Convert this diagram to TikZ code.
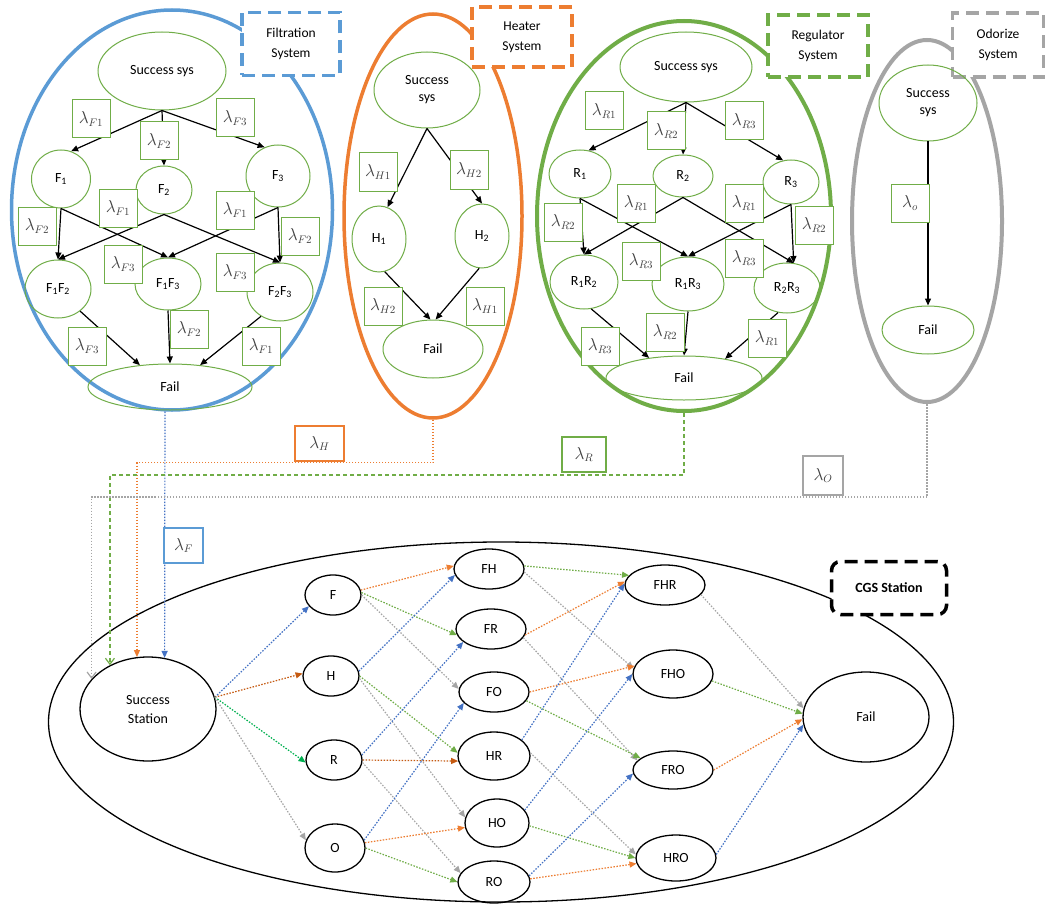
\documentclass[tikz,border=0pt]{standalone}
\usepackage{fontspec}
\setmainfont{Carlito}
\usetikzlibrary{shapes.geometric,arrows.meta}
\definecolor{fblue}{HTML}{5B9BD5}
\definecolor{cblue}{HTML}{4472C4}
\definecolor{corange}{HTML}{ED7D31}
\definecolor{dorange}{HTML}{C55A11}
\definecolor{cgreen}{HTML}{70AD47}
\definecolor{bgreen}{HTML}{00B050}
\definecolor{cgray}{HTML}{A5A5A5}
\definecolor{ltxt}{HTML}{404040}
\tikzset{
 sn/.style={draw=cgreen, line width=1pt, ellipse, inner sep=0pt, align=center, font=\fontsize{14}{17}\selectfont},
 lam/.style={draw=cgreen, line width=1pt, fill=white, minimum width=38pt, minimum height=38pt, inner sep=0pt, text=ltxt, font=\fontsize{16}{18}\selectfont},
 arr/.style={-{Triangle[length=7pt,width=6pt]}, line width=1.2pt},
 sysE/.style={ellipse, draw, inner sep=0pt},
 sysbox/.style={fill=white, line width=3.5pt, dash pattern=on 13pt off 7pt, align=center, inner sep=0pt, font=\fontsize{13.5}{20}\selectfont},
 bn/.style={draw, ellipse, line width=1.3pt, inner sep=0pt, align=center, font=\fontsize{14}{19}\selectfont},
 dotl/.style={line width=1.2pt, dash pattern=on 1.5pt off 1.5pt},
 tipT/.style={-{Triangle[length=7pt,width=6pt]}},
 tipV/.style={-{Straight Barb[length=6pt,width=9pt]}},
 mlam/.style={draw, line width=1.2pt, fill=white, inner sep=0pt, text=ltxt, font=\fontsize{16}{18}\selectfont},
 lnB/.style={cblue, dotl, tipT},
 lnO/.style={corange, dotl, tipT},
 lnD/.style={dorange, dotl, tipT},
 lnG/.style={cgreen, dotl, tipT},
 lnE/.style={bgreen, dotl, tipT},
 lnY/.style={cgray, dotl, tipT}
}
\begin{document}
\begin{tikzpicture}[x=1pt,y=-1pt]
\fill[white] (0,0) rectangle (1048,904);
\useasboundingbox (0,0) rectangle (1048,904);

% ---------- Filtration system ----------
\node[sysE, draw=fblue, line width=3.5pt, minimum width=321pt, minimum height=400pt] (Fsys) at (172,210) {};
\node[sysbox, draw=fblue, minimum width=98pt, minimum height=63pt] (Fbox) at (291,44) {Filtration\\System};
\node[sn, minimum width=128pt, minimum height=78pt] (fS) at (162,71) {Success sys};
\node[sn, minimum width=59pt, minimum height=58pt] (fF1) at (61,179) {F\textsubscript{1}};
\node[sn, minimum width=56pt, minimum height=48pt] (fF2) at (164,190) {F\textsubscript{2}};
\node[sn, minimum width=64pt, minimum height=62pt] (fF3) at (278,176) {F\textsubscript{3}};
\node[sn, minimum width=66pt, minimum height=58pt] (fF12) at (58,289) {F\textsubscript{1}F\textsubscript{2}};
\node[sn, minimum width=66pt, minimum height=52pt] (fF13) at (168,284) {F\textsubscript{1}F\textsubscript{3}};
\node[sn, minimum width=66pt, minimum height=58pt] (fF23) at (280,292) {F\textsubscript{2}F\textsubscript{3}};
\node[sn, minimum width=164pt, minimum height=46pt] (fFail) at (170,387) {Fail};
\draw[arr] (fS.south) -- (fF1.70);
\draw[arr] (fS.south) -- (fF2.north);
\draw[arr] (fS.south) -- (fF3.115);
\draw[arr] (fF1.south) -- (fF12.north);
\draw[arr] (fF1.south) -- (fF13.north);
\draw[arr] (fF2.south) -- (fF12.north);
\draw[arr] (fF2.south) -- (fF23.north);
\draw[arr] (fF3.south) -- (fF13.north);
\draw[arr] (fF3.south) -- (fF23.north);
\draw[arr] (fF12.-45) -- (fFail.144);
\draw[arr] (fF13.south) -- (fFail.north);
\draw[arr] (fF23.232) -- (fFail.36);
\node[lam] (lf1) at (91,119) {$\lambda_{F1}$};
\node[lam] (lf2) at (159,141) {$\lambda_{F2}$};
\node[lam] (lf3) at (235,118) {$\lambda_{F3}$};
\node[lam] (lf4) at (37,226) {$\lambda_{F2}$};
\node[lam] (lf5) at (118,208) {$\lambda_{F1}$};
\node[lam] (lf6) at (235,210) {$\lambda_{F1}$};
\node[lam] (lf7) at (300,236) {$\lambda_{F2}$};
\node[lam] (lf8) at (123,264) {$\lambda_{F3}$};
\node[lam] (lf9) at (235,272) {$\lambda_{F3}$};
\node[lam] (lf10) at (87,346) {$\lambda_{F3}$};
\node[lam] (lf11) at (189,329) {$\lambda_{F2}$};
\node[lam] (lf12) at (261,346) {$\lambda_{F1}$};

% ---------- Heater system ----------
\node[sysE, draw=corange, line width=3.5pt, minimum width=178pt, minimum height=404pt] (Hsys) at (433,216) {};
\node[sysbox, draw=corange, minimum width=100pt, minimum height=60pt] (Hbox) at (522,37) {Heater\\System};
\node[sn, minimum width=106pt, minimum height=76pt] (hS) at (427,90) {Success\\sys};
\node[sn, minimum width=54pt, minimum height=66pt] (hH1) at (379,239) {H\textsubscript{1}};
\node[sn, minimum width=54pt, minimum height=64pt] (hH2) at (482,236) {H\textsubscript{2}};
\node[sn, minimum width=100pt, minimum height=58pt] (hFail) at (433,349) {Fail};
\draw[arr] (hS.south) -- (hH1.75);
\draw[arr] (hS.south) -- (hH2.north);
\draw[arr] (hH1.-80) -- (hFail.95);
\draw[arr] (hH2.-95) -- (hFail.85);
\node[lam] (lh1) at (378,172) {$\lambda_{H1}$};
\node[lam] (lh2) at (469,170) {$\lambda_{H2}$};
\node[lam] (lh3) at (383,306) {$\lambda_{H2}$};
\node[lam] (lh4) at (485,306) {$\lambda_{H1}$};

% ---------- Regulator system ----------
\node[sysE, draw=cgreen, line width=4pt, minimum width=294pt, minimum height=390pt] (Rsys) at (684,216) {};
\node[sysbox, draw=cgreen, minimum width=100pt, minimum height=62pt] (Rbox) at (818,46) {Regulator\\System};
\node[sn, minimum width=132pt, minimum height=70pt] (rS) at (686,67) {Success sys};
\node[sn, minimum width=62pt, minimum height=48pt] (rR1) at (580,174) {R\textsubscript{1}};
\node[sn, minimum width=60pt, minimum height=42pt] (rR2) at (683,176) {R\textsubscript{2}};
\node[sn, minimum width=56pt, minimum height=44pt] (rR3) at (791,182) {R\textsubscript{3}};
\node[sn, minimum width=68pt, minimum height=54pt] (rR12) at (584,282) {R\textsubscript{1}R\textsubscript{2}};
\node[sn, minimum width=72pt, minimum height=54pt] (rR13) at (688,284) {R\textsubscript{1}R\textsubscript{3}};
\node[sn, minimum width=66pt, minimum height=50pt] (rR23) at (787,288) {R\textsubscript{2}R\textsubscript{3}};
\node[sn, minimum width=156pt, minimum height=44pt] (rFail) at (684,378) {Fail};
\draw[arr] (rS.south) -- (rR1.70);
\draw[arr] (rS.south) -- (rR2.north);
\draw[arr] (rS.south) -- (rR3.110);
\draw[arr] (rR1.south) -- (rR12.north);
\draw[arr] (rR1.south) -- (rR13.north);
\draw[arr] (rR2.south) -- (rR12.north);
\draw[arr] (rR2.south) -- (rR23.75);
\draw[arr] (rR3.south) -- (rR13.north);
\draw[arr] (rR3.south) -- (rR23.75);
\draw[arr] (rR12.-75) -- (rFail.150);
\draw[arr] (rR13.south) -- (rFail.north);
\draw[arr] (rR23.-110) -- (rFail.25);
\node[lam] (lr1) at (604,111) {$\lambda_{R1}$};
\node[lam] (lr2) at (666,131) {$\lambda_{R2}$};
\node[lam] (lr3) at (744,121) {$\lambda_{R3}$};
\node[lam] (lr4) at (563,222) {$\lambda_{R2}$};
\node[lam] (lr5) at (636,203) {$\lambda_{R1}$};
\node[lam] (lr6) at (744,203) {$\lambda_{R1}$};
\node[lam] (lr7) at (814,225) {$\lambda_{R2}$};
\node[lam] (lr8) at (641,261) {$\lambda_{R3}$};
\node[lam] (lr9) at (744,258) {$\lambda_{R3}$};
\node[lam] (lr10) at (600,346) {$\lambda_{R3}$};
\node[lam] (lr11) at (665,332) {$\lambda_{R2}$};
\node[lam] (lr12) at (767,338) {$\lambda_{R1}$};

% ---------- Odorize system ----------
\node[sysE, draw=cgray, line width=4pt, minimum width=150pt, minimum height=362pt] (Osys) at (927,221) {};
\node[sysbox, draw=cgray, minimum width=91pt, minimum height=64pt] (Obox) at (998,45) {Odorize\\System};
\node[sn, minimum width=98pt, minimum height=76pt] (oS) at (928,103) {Success\\sys};
\node[sn, minimum width=92pt, minimum height=48pt] (oFail) at (928,330) {Fail};
\draw[arr] (oS.south) -- (oFail.north);
\node[lam] (lo) at (910,203) {$\lambda_o$};

% ---------- CGS station ----------
\node[bn, minimum width=905pt, minimum height=360pt] (CGSe) at (501,722) {};
\node[sysbox, draw=black, rounded corners=9pt, minimum width=115pt, minimum height=53pt, font=\fontsize{14}{17}\selectfont\bfseries] (CGSbox) at (889,588) {CGS Station};

\node[bn, minimum width=136pt, minimum height=104pt] (SS) at (148,709) {Success\\Station};
\node[bn, minimum width=56pt, minimum height=40pt] (F) at (333,595) {F};
\node[bn, minimum width=56pt, minimum height=40pt] (H) at (331,676) {H};
\node[bn, minimum width=56pt, minimum height=40pt] (R) at (334,760) {R};
\node[bn, minimum width=60pt, minimum height=48pt] (O) at (335,848) {O};
\node[bn, minimum width=70pt, minimum height=40pt] (FH) at (489,569) {FH};
\node[bn, minimum width=70pt, minimum height=40pt] (FR) at (491,629) {FR};
\node[bn, minimum width=70pt, minimum height=40pt] (FO) at (494,692) {FO};
\node[bn, minimum width=72pt, minimum height=48pt] (HR) at (494,756) {HR};
\node[bn, minimum width=64pt, minimum height=48pt] (HO) at (497,823) {HO};
\node[bn, minimum width=72pt, minimum height=42pt] (RO) at (494,882) {RO};
\node[bn, minimum width=80pt, minimum height=40pt] (FHR) at (665,585) {FHR};
\node[bn, minimum width=80pt, minimum height=48pt] (FHO) at (673,674) {FHO};
\node[bn, minimum width=80pt, minimum height=38pt] (FRO) at (673,770) {FRO};
\node[bn, minimum width=80pt, minimum height=46pt] (HRO) at (676,858) {HRO};
\node[bn, minimum width=126pt, minimum height=90pt] (Fail) at (866,717) {Fail};

% system outputs to station
\draw[cblue, dotl, tipT] (Fsys.268) -- (SS.72);
\draw[corange, dotl, tipT] (Hsys.south) -- ++(0,43) -| (SS.102);
\draw[cgreen, line width=1.2pt, dash pattern=on 4pt off 3pt, tipV] (Rsys.south) -- ++(0,62) -| (SS.131);
\draw[cgray, dotl, tipV] (Osys.south) -- ++(0,93) -| (SS.152);
\node[mlam, draw=fblue, minimum width=39pt, minimum height=35pt] (lF) at (183.5,545.5) {$\lambda_F$};
\node[mlam, draw=corange, minimum width=49pt, minimum height=35pt] (lH) at (319.5,443.5) {$\lambda_H$};
\node[mlam, draw=cgreen, minimum width=44pt, minimum height=35pt] (lR) at (584,454.5) {$\lambda_R$};
\node[mlam, draw=cgray, minimum width=40pt, minimum height=39pt] (lO) at (823,475.5) {$\lambda_O$};

% first level
\draw[lnB] (SS.10) -- (F.205);
\draw[lnD] (SS.10) -- (H.175);
\draw[lnE] (SS.10) -- (R.185);
\draw[lnY] (SS.10) -- (O.165);
% second level
\draw[lnO] (F.10) -- (FH.175);
\draw[lnG] (F.5) -- (FR.190);
\draw[lnY] (F.0) -- (FO.175);
\draw[lnB] (H.10) -- (FH.190);
\draw[lnG] (H.0) -- (HR.175);
\draw[lnY] (H.-5) -- (HO.170);
\draw[lnB] (R.10) -- (FR.205);
\draw[lnD] (R.0) -- (HR.188);
\draw[lnY] (R.-5) -- (RO.165);
\draw[lnB] (O.15) -- (FO.200);
\draw[lnO] (O.10) -- (HO.188);
\draw[lnG] (O.0) -- (RO.180);
% third level
\draw[lnG] (FH.5) -- (FHR.165);
\draw[lnY] (FH.-5) -- (FHO.172);
\draw[lnO] (FR.-10) -- (FHR.175);
\draw[lnY] (FR.-15) -- (FRO.165);
\draw[lnO] (FO.0) -- (FHO.168);
\draw[lnG] (FO.-15) -- (FRO.160);
\draw[lnB] (HR.30) -- (FHR.178);
\draw[lnY] (HR.5) -- (HRO.175);
\draw[lnB] (HO.25) -- (FHO.180);
\draw[lnG] (HO.-5) -- (HRO.180);
\draw[lnB] (RO.10) -- (FRO.185);
\draw[lnO] (RO.5) -- (HRO.188);
% to fail
\draw[lnY] (FHR.-15) -- (Fail.172);
\draw[lnG] (FHO.-10) -- (Fail.177);
\draw[lnO] (FRO.0) -- (Fail.182);
\draw[lnB] (HRO.5) -- (Fail.187);
\end{tikzpicture}
\end{document}
